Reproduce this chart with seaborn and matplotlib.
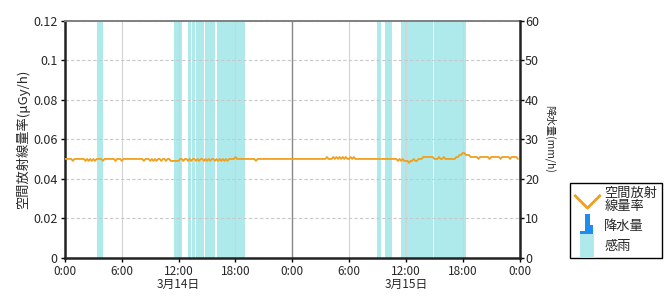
import numpy as np
import pandas as pd
import matplotlib
matplotlib.use("Agg")
import matplotlib.pyplot as plt
import seaborn as sns
from matplotlib.lines import Line2D
from matplotlib.path import Path

# Air dose rate, 10-minute readings, in units of 0.001 uGy/h
day1_dose = [
    50, 50, 50, 50, 50, 49, 50, 50, 50, 50, 50, 50,
    50, 49, 50, 49, 50, 49, 50, 49, 50, 50, 50, 50,
    49, 50, 50, 50, 50, 50, 50, 50, 49, 50, 50, 50,
    49, 50, 50, 50, 50, 50, 50, 50, 50, 50, 50, 50,
    50, 50, 49, 50, 50, 50, 49, 50, 49, 50, 49, 50,
    50, 49, 50, 50, 49, 50, 50, 49, 49, 49, 49, 49,
    49, 50, 50, 49, 50, 50, 49, 50, 49, 50, 50, 49,
    50, 49, 50, 50, 49, 50, 49, 50, 49, 50, 50, 49,
    50, 49, 50, 49, 50, 49, 50, 49, 50, 50, 50, 50,
    51, 50, 50, 50, 50, 50, 50, 50, 50, 50, 50, 50,
    50, 49, 50, 50, 50, 50, 50, 50, 50, 50, 50, 50,
    50, 50, 50, 50, 50, 50, 50, 50, 50, 50, 50, 50,
]
day2_dose = [
    50, 50, 50, 50, 50, 50, 50, 50, 50, 50, 50, 50,
    50, 50, 50, 50, 50, 50, 50, 50, 50, 50, 51, 50,
    50, 50, 51, 50, 51, 50, 51, 50, 51, 50, 51, 50,
    50, 51, 50, 51, 50, 50, 50, 50, 50, 50, 50, 50,
    50, 50, 50, 50, 50, 50, 50, 50, 50, 50, 50, 50,
    50, 50, 50, 50, 50, 50, 50, 49, 50, 49, 50, 49,
    49, 49, 48, 49, 49, 50, 49, 49, 50, 50, 50, 51,
    51, 51, 51, 51, 51, 51, 50, 50, 50, 51, 50, 50,
    51, 50, 50, 50, 50, 50, 50, 50, 51, 51, 52, 52,
    53, 53, 52, 52, 52, 51, 51, 51, 51, 51, 50, 51,
    51, 51, 51, 51, 51, 50, 51, 51, 51, 51, 51, 51,
    50, 51, 51, 51, 51, 51, 50, 51, 51, 51, 51, 50,
]

# Rain-sensor (感雨) periods, hours from 3/14 0:00
rain_start = [3.33, 11.5, 13.0, 13.4, 13.8, 14.83, 16.0, 33.0, 33.75, 35.5, 36.65, 38.95]
rain_end = [4.0, 12.33, 13.33, 13.7, 14.67, 15.83, 19.0, 33.33, 34.5, 36.6, 38.9, 42.4]

x_ticks = [0, 6, 12, 18, 24, 30, 36, 42, 48]
x_labels = ["0:00", "6:00", "12:00\n3月14日", "18:00", "0:00", "6:00", "12:00\n3月15日", "18:00", "0:00"]
y_ticks = [0, 0.02, 0.04, 0.06, 0.08, 0.1, 0.12]
y_labels = ["0", "0.02", "0.04", "0.06", "0.08", "0.1", "0.12"]
y2_ticks = [0, 10, 20, 30, 40, 50, 60]

sns.set_theme(style="white")
plt.rcParams["font.family"] = ["Noto Sans CJK JP", "DejaVu Sans"]

dose = np.array(day1_dose + day2_dose) / 1000.0
hours = np.arange(len(dose)) / 6.0
df = pd.DataFrame({"hour": hours, "dose": dose})

LINE = "#f0a01e"
RAIN = "#aeeaec"

fig = plt.figure(figsize=(6.7, 3.0), dpi=100)
ax = fig.add_axes([65 / 670, 1 - 257.7 / 300, (519.5 - 65) / 670, (257.7 - 20.7) / 300])

for s, e in zip(rain_start, rain_end):
    ax.axvspan(s, e, color=RAIN, lw=0, zorder=1)

sns.lineplot(data=df, x="hour", y="dose", color=LINE, lw=1.3, ax=ax, zorder=3)

ax.set_xlim(0, 48)
ax.set_ylim(0, 0.12)
ax.set_xticks(x_ticks)
ax.set_xticklabels(x_labels, fontsize=8.5, linespacing=1.0)
ax.set_yticks(y_ticks)
ax.set_yticklabels(y_labels, fontsize=9)
ax.set_xlabel("")
ax.set_ylabel("空間放射線量率(μGy/h)", fontsize=9.5, labelpad=2)

ax.set_axisbelow("line")
ax.yaxis.grid(True, ls=(0, (3, 2)), color="#c8c8c8", lw=0.8)
ax.xaxis.grid(True, ls="-", color="#d2d2d2", lw=0.8)
ax.axvline(24, color="#8a8a8a", lw=1.0, zorder=1.6)

ax.tick_params(axis="both", which="major", direction="out", length=3, width=1,
               color="black", pad=1, left=True, bottom=True)
ax.tick_params(axis="x", pad=2.5)
ax.tick_params(axis="y", pad=2.5)
for name, sp in ax.spines.items():
    sp.set_visible(True)
ax.spines["left"].set_color("#222222")
ax.spines["left"].set_linewidth(1.8)
ax.spines["bottom"].set_color("#222222")
ax.spines["bottom"].set_linewidth(1.8)
ax.spines["top"].set_color("#808080")
ax.spines["top"].set_linewidth(1.4)
ax.spines["right"].set_visible(False)

ax2 = ax.twinx()
ax2.set_ylim(0, 60)
ax2.set_yticks(y2_ticks)
ax2.set_yticklabels([str(v) for v in y2_ticks], fontsize=9)
ax2.tick_params(axis="y", direction="out", length=3, width=1, color="black", pad=1, right=True)
ax2.set_ylabel("降水量(mm/h)", fontsize=7.5, rotation=270, labelpad=12)
ax2.grid(False)
for name, sp in ax2.spines.items():
    sp.set_visible(name == "right")
ax2.spines["right"].set_color("#222222")
ax2.spines["right"].set_linewidth(1.8)

# Legend
v_marker = Path([(-1, 0.5), (0, -0.5), (1, 0.5)], [Path.MOVETO, Path.LINETO, Path.LINETO])
bar_marker = Path([(-0.6, -1), (-0.6, -0.4), (-0.15, -0.4), (-0.15, 1), (0.2, 1),
                   (0.2, 0.1), (0.5, 0.1), (0.5, -1), (-0.6, -1)])
rect_marker = Path([(-0.6, -1), (-0.6, 1), (0.6, 1), (0.6, -1), (-0.6, -1)])
handles = [
    Line2D([], [], ls="none", marker=v_marker, markersize=19, mec=LINE, mfc="none", mew=2),
    Line2D([], [], ls="none", marker=bar_marker, markersize=18, mec="#1e8cf0", mfc="#1e8cf0", mew=0),
    Line2D([], [], ls="none", marker=rect_marker, markersize=17, mec=RAIN, mfc=RAIN, mew=0),
]
labels = ["空間放射\n線量率", "降水量", "感雨"]
leg = fig.legend(handles, labels, loc="lower left", bbox_to_anchor=(570 / 670, 1 - 258 / 300),
                 fontsize=9.5, frameon=True, fancybox=False, framealpha=1, edgecolor="black",
                 handlelength=1.9, handletextpad=0.35, borderpad=0.35, labelspacing=0.55,
                 borderaxespad=0)
leg.get_frame().set_linewidth(1.0)
for t in leg.get_texts():
    t.set_linespacing(0.95)

fig.savefig("out.png", dpi=100)
